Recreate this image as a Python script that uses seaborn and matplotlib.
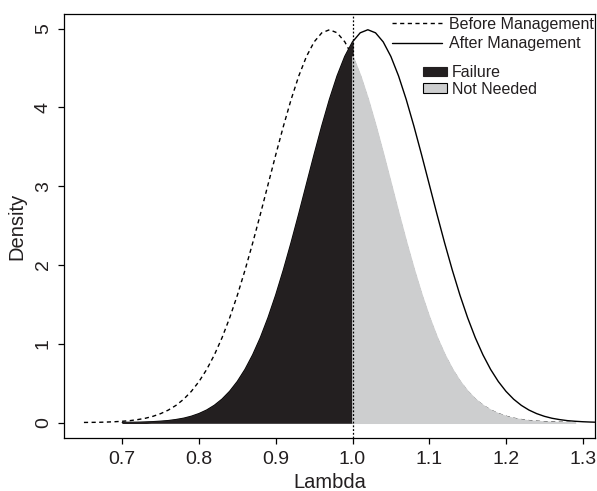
import numpy as np
import pandas as pd
import matplotlib
matplotlib.use("Agg")
import matplotlib.pyplot as plt
import seaborn as sns
from matplotlib.lines import Line2D
from matplotlib.patches import Patch

# ---------------- data ----------------
lambda_before = np.round(np.arange(0.65, 1.2901, 0.01), 2)
density_before = [0.002, 0.003, 0.004, 0.007, 0.011, 0.017, 0.025, 0.038, 0.055, 0.080,
                  0.114, 0.159, 0.219, 0.297, 0.397, 0.522, 0.675, 0.860, 1.078, 1.332,
                  1.619, 1.938, 2.283, 2.648, 3.025, 3.401, 3.764, 4.102, 4.401, 4.648,
                  4.833, 4.948, 4.987, 4.948, 4.833, 4.648, 4.401, 4.102, 3.764, 3.401,
                  3.025, 2.648, 2.283, 1.938, 1.619, 1.332, 1.078, 0.860, 0.675, 0.522,
                  0.397, 0.297, 0.219, 0.159, 0.114, 0.080, 0.055, 0.038, 0.025, 0.017,
                  0.011, 0.007, 0.004, 0.003, 0.002]
lambda_after = np.round(np.arange(0.70, 1.3401, 0.01), 2)
density_after = [0.002, 0.003, 0.004, 0.007, 0.011, 0.017, 0.025, 0.038, 0.055, 0.080,
                 0.114, 0.159, 0.219, 0.297, 0.397, 0.522, 0.675, 0.860, 1.078, 1.332,
                 1.619, 1.938, 2.283, 2.648, 3.025, 3.401, 3.764, 4.102, 4.401, 4.648,
                 4.833, 4.948, 4.987, 4.948, 4.833, 4.648, 4.401, 4.102, 3.764, 3.401,
                 3.025, 2.648, 2.283, 1.938, 1.619, 1.332, 1.078, 0.860, 0.675, 0.522,
                 0.397, 0.297, 0.219, 0.159, 0.114, 0.080, 0.055, 0.038, 0.025, 0.017,
                 0.011, 0.007, 0.004, 0.003, 0.002]
threshold = 1.0
x_ticks = [0.7, 0.8, 0.9, 1.0, 1.1, 1.2, 1.3]
x_tick_labels = ["0.7", "0.8", "0.9", "1.0", "1.1", "1.2", "1.3"]
y_ticks = [0, 1, 2, 3, 4, 5]
line_labels = ["Before Management", "After Management"]
area_labels = ["Failure", "Not Needed"]

df_before = pd.DataFrame({"Lambda": lambda_before, "Density": density_before})
df_after = pd.DataFrame({"Lambda": lambda_after, "Density": density_after})

# ---------------- style ----------------
sns.set_theme(style="ticks")
plt.rcParams["font.family"] = ["Liberation Sans", "DejaVu Sans"]
plt.rcParams["axes.edgecolor"] = "black"
plt.rcParams["axes.linewidth"] = 0.9

black_fill = "#231f20"
grey_fill = "#cdcecf"
text_col = "#231f20"

fig = plt.figure(figsize=(5.97, 4.91), dpi=100)
ax = fig.add_axes([0.1077, 0.1073, 0.9961 - 0.1077, 0.9715 - 0.1073])

# curves
sns.lineplot(data=df_before, x="Lambda", y="Density", ax=ax, color="black",
             linewidth=1.0, zorder=1, estimator=None, sort=True)
ax.lines[-1].set_dashes((3, 2.5))
sns.lineplot(data=df_after, x="Lambda", y="Density", ax=ax, color="black",
             linewidth=1.0, zorder=1, estimator=None, sort=True)

# shaded regions
fail = df_after[df_after["Lambda"] <= threshold]
ax.fill_between(fail["Lambda"], 0, fail["Density"], color=black_fill,
                edgecolor=black_fill, linewidth=1.0, zorder=2)
notneeded = df_before[df_before["Lambda"] >= threshold]
ax.fill_between(notneeded["Lambda"], 0, notneeded["Density"], color=grey_fill,
                edgecolor=grey_fill, linewidth=1.3, zorder=2)

ax.axvline(threshold, color="black", linewidth=0.9, linestyle=(0, (1.5, 1.5)), zorder=3)

# axes
ax.set_xlim(0.6244, 1.3156)
ax.set_ylim(-0.1995, 5.187)
ax.set_xticks(x_ticks)
ax.set_xticklabels(x_tick_labels)
ax.set_yticks(y_ticks)
ax.tick_params(axis="both", direction="out", length=4, width=0.9, color="black",
               labelsize=14, labelcolor=text_col, pad=5)
ax.tick_params(axis="y", labelrotation=90)
for lab in ax.get_yticklabels():
    lab.set_va("center")
ax.set_xlabel("Lambda", fontsize=14.5, color=text_col, labelpad=4)
ax.set_ylabel("Density", fontsize=14.5, color=text_col, labelpad=6)
for s in ax.spines.values():
    s.set_visible(True)
    s.set_color("black")

# legends
line_handles = [Line2D([], [], color="black", linewidth=1.0, dashes=(3, 2.5)),
                Line2D([], [], color="black", linewidth=1.0)]
leg1 = fig.legend(line_handles, line_labels, loc="upper left",
                  bbox_to_anchor=(392 / 597, 1 - 17 / 491), frameon=False,
                  fontsize=11.5, handlelength=3.15, handletextpad=0.42,
                  labelspacing=0.26, borderpad=0, borderaxespad=0, labelcolor=text_col)
area_handles = [Patch(facecolor=black_fill, edgecolor=black_fill, linewidth=0.8),
                Patch(facecolor=grey_fill, edgecolor="black", linewidth=0.8)]
leg2 = fig.legend(area_handles, area_labels, loc="upper left",
                  bbox_to_anchor=(423 / 597, 1 - 65 / 491), frameon=False,
                  fontsize=11.5, handlelength=1.5, handleheight=0.55, handletextpad=0.3,
                  labelspacing=0.12, borderpad=0, borderaxespad=0, labelcolor=text_col)

fig.savefig("out.png", dpi=100)
